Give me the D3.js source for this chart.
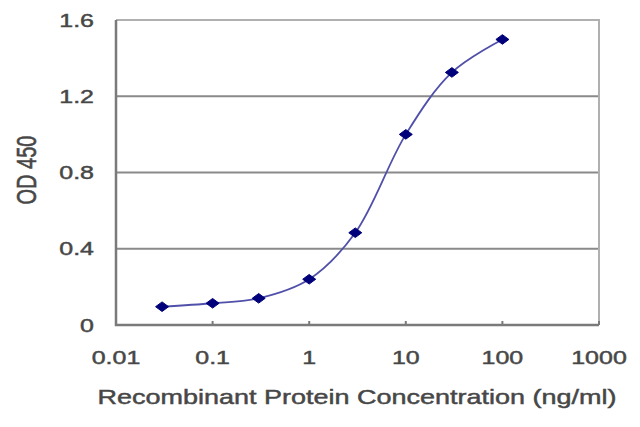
<!DOCTYPE html>
<html>
  <head>
    <meta charset="UTF-8" />
    <title>OD 450 curve</title>
    <style>
      body { margin: 0; background: #fff; }
      svg { display: block; }
      text {
        font-family: "Liberation Sans", Arial, sans-serif;
        fill: #474747;
        stroke: #474747;
        stroke-width: 0.45px;
      }
    </style>
  </head>
  <body>
    <svg></svg>
    <script src="https://d3js.org/d3.v7.min.js"></script>
    <script>
      // data
      const concentrations = [0.03, 0.1, 0.3, 1, 3, 10, 30, 100];
      const odValues = [0.096, 0.114, 0.14, 0.24, 0.484, 1.0, 1.325, 1.498];
      const xTicks = [0.01, 0.1, 1, 10, 100, 1000];
      const xTickLabels = ["0.01", "0.1", "1", "10", "100", "1000"];
      const yTicks = [0, 0.4, 0.8, 1.2, 1.6];
      const yTickLabels = ["0", "0.4", "0.8", "1.2", "1.6"];

      let width = 640,
        height = 427;
      let svg = d3.select("svg").attr("width", width).attr("height", height);

      const plotLeft = 116, plotRight = 599, plotTop = 20, plotBottom = 325;
      const stretch = 1.35; // the picture is stretched sideways

      let x = d3.scaleLog().domain([0.01, 1000]).range([plotLeft, plotRight]);
      let y = d3.scaleLinear().domain([0, 1.6]).range([plotBottom, plotTop]);

      // gridlines
      svg.append("g")
        .selectAll("line")
        .data(yTicks.filter((d) => d > 0 && d < 1.6))
        .enter()
        .append("line")
        .attr("x1", plotLeft)
        .attr("x2", plotRight)
        .attr("y1", (d) => y(d))
        .attr("y2", (d) => y(d))
        .attr("stroke", "#8a8a8a")
        .attr("stroke-width", 2.2);

      // frame: top + right lighter
      svg.append("path")
        .attr("d", `M${plotLeft},${y(1.6)}H${plotRight}V${plotBottom}`)
        .attr("fill", "none")
        .attr("stroke", "#b0b0b0")
        .attr("stroke-width", 2);

      // axes
      svg.append("path")
        .attr("d", `M${plotLeft},${y(1.6)}V${plotBottom}H${plotRight}`)
        .attr("fill", "none")
        .attr("stroke", "#7a7a7a")
        .attr("stroke-width", 2.5);

      // small inward ticks on x axis
      svg.append("g")
        .selectAll("line")
        .data(xTicks)
        .enter()
        .append("line")
        .attr("x1", (d) => x(d))
        .attr("x2", (d) => x(d))
        .attr("y1", plotBottom)
        .attr("y2", plotBottom - 4)
        .attr("stroke", "#7a7a7a")
        .attr("stroke-width", 2);

      // y tick labels
      svg.append("g")
        .selectAll("g")
        .data(yTicks)
        .enter()
        .append("g")
        .attr("transform", (d) => `translate(${plotLeft - 22},${y(d)}) scale(${stretch},1)`)
        .append("text")
        .attr("text-anchor", "end")
        .attr("dy", "0.36em")
        .style("font-size", "18.5px")
        .text((d, i) => yTickLabels[i]);

      // x tick labels
      svg.append("g")
        .selectAll("g")
        .data(xTicks)
        .enter()
        .append("g")
        .attr("transform", (d) => `translate(${x(d)},357) scale(${stretch},1)`)
        .append("text")
        .attr("text-anchor", "middle")
        .attr("dy", "0.36em")
        .style("font-size", "18.5px")
        .text((d, i) => xTickLabels[i]);

      // axis titles
      svg.append("g")
        .attr("transform", `translate(357,397) scale(${stretch},1)`)
        .append("text")
        .attr("text-anchor", "middle")
        .attr("dy", "0.36em")
        .style("font-size", "20px")
        .text("Recombinant Protein Concentration (ng/ml)");

      svg.append("g")
        .attr("transform", `translate(26,170) scale(${stretch},1) rotate(-90)`)
        .append("text")
        .attr("text-anchor", "middle")
        .attr("dy", "0.36em")
        .style("font-size", "20px")
        .text("OD 450");

      // curve
      let pts = concentrations.map((c, i) => [c, odValues[i]]);
      let line = d3.line()
        .x((d) => x(d[0]))
        .y((d) => y(d[1]))
        .curve(d3.curveCatmullRom.alpha(0.5));

      svg.append("path")
        .datum(pts)
        .attr("d", line)
        .attr("fill", "none")
        .attr("stroke", "#5050aa")
        .attr("stroke-width", 1.8);

      // diamond markers
      svg.append("g")
        .selectAll("path")
        .data(pts)
        .enter()
        .append("path")
        .attr("transform", (d) => `translate(${x(d[0])},${y(d[1])})`)
        .attr("d", "M0,-4.8L6.5,0L0,4.8L-6.5,0Z")
        .attr("fill", "#00007a")
        .attr("stroke", "#00007a")
        .attr("stroke-width", 1)
        .attr("stroke-linejoin", "round");
    </script>
  </body>
</html>
